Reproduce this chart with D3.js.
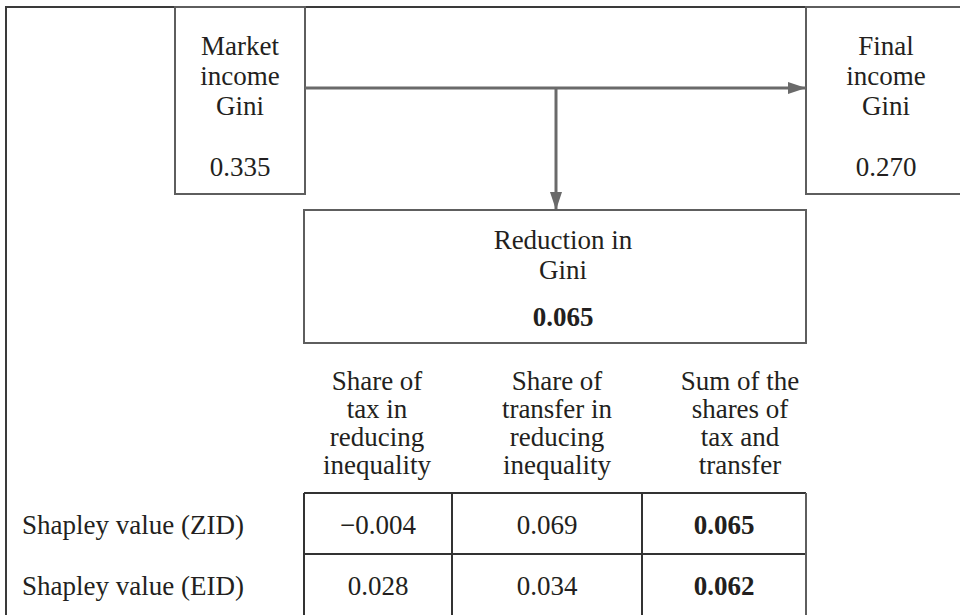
<!DOCTYPE html>
<html>
<head>
<meta charset="utf-8">
<script src="https://cdn.jsdelivr.net/npm/d3@7"></script>
<style>
  html, body { margin: 0; padding: 0; background: #fff; }
  svg { display: block; }
  text { font-family: "Liberation Serif", "DejaVu Serif", serif; fill: #231f20; }
</style>
</head>
<body>
<svg id="chart" width="960" height="615"></svg>
<script>
// ---- data ----
const topBoxLabels = [["Market", "income", "Gini"], ["Final", "income", "Gini"]];
const topBoxValues = [0.335, 0.270];
const reductionLabel = ["Reduction in", "Gini"];
const reductionValue = 0.065;
const columnHeaders = [
  ["Share of", "tax in", "reducing", "inequality"],
  ["Share of", "transfer in", "reducing", "inequality"],
  ["Sum of the", "shares of", "tax and", "transfer"]
];
const rowLabels = ["Shapley value (ZID)", "Shapley value (EID)"];
const taxShare = [-0.004, 0.028];
const transferShare = [0.069, 0.034];
const sumShare = [0.065, 0.062];

// ---- layout ----
const svg = d3.select("#chart");
const fmt = d3.format(".3f");
const lineCol = "#5e5e5e";
const arrowCol = "#6a6a6a";
const fs = "27px";

// outer frame (clipped at right/bottom)
svg.append("path")
  .attr("d", "M6,615 L6,7 L960,7")
  .attr("fill", "none").attr("stroke", "#3a3a3a").attr("stroke-width", 2);

// top boxes
const topBoxX = d3.scaleOrdinal().domain([0, 1]).range([175, 806]);
const topBoxW = d3.scaleOrdinal().domain([0, 1]).range([130, 160]);
const boxTop = 7, boxBottom = 194;
const lineY = d3.scaleLinear().domain([0, 1]).range([55, 85]);

topBoxLabels.forEach((lines, i) => {
  const x0 = topBoxX(i), w = topBoxW(i);
  svg.append("rect")
    .attr("x", x0).attr("y", boxTop).attr("width", w).attr("height", boxBottom - boxTop)
    .attr("fill", "#fff").attr("stroke", lineCol).attr("stroke-width", 2);
  const t = svg.append("g").attr("text-anchor", "middle").style("font-size", fs);
  lines.forEach((s, j) => {
    t.append("text").attr("x", x0 + w / 2).attr("y", lineY(j)).text(s);
  });
  t.append("text").attr("x", x0 + w / 2).attr("y", 176).text(fmt(topBoxValues[i]));
});

// arrowhead marker
const defs = svg.append("defs");
defs.append("marker")
  .attr("id", "ah").attr("viewBox", "0 0 18 12")
  .attr("refX", 18).attr("refY", 6)
  .attr("markerWidth", 18).attr("markerHeight", 12)
  .attr("markerUnits", "userSpaceOnUse")
  .attr("orient", "auto")
  .append("path").attr("d", "M0,0 L18,6 L0,12 Z").attr("fill", arrowCol);

const arrowY = 88, arrowX = 556;
svg.append("line")
  .attr("x1", 305).attr("y1", arrowY).attr("x2", 806).attr("y2", arrowY)
  .attr("stroke", arrowCol).attr("stroke-width", 3).attr("marker-end", "url(#ah)");
svg.append("line")
  .attr("x1", arrowX).attr("y1", arrowY).attr("x2", arrowX).attr("y2", 210)
  .attr("stroke", arrowCol).attr("stroke-width", 3).attr("marker-end", "url(#ah)");

// reduction box
const redX0 = 304, redX1 = 806, redY0 = 210, redY1 = 343;
svg.append("rect")
  .attr("x", redX0).attr("y", redY0).attr("width", redX1 - redX0).attr("height", redY1 - redY0)
  .attr("fill", "none").attr("stroke", lineCol).attr("stroke-width", 2);
const rg = svg.append("g").attr("text-anchor", "middle").style("font-size", fs);
reductionLabel.forEach((s, j) => {
  rg.append("text").attr("x", 563).attr("y", 249 + j * 30).text(s);
});
rg.append("text").attr("x", 563).attr("y", 326).style("font-weight", "bold").text(fmt(reductionValue));

// table
const colEdges = [304, 452, 642, 806];
const colIdx = [0, 1, 2];
const colLeft = d3.scaleOrdinal().domain(colIdx).range(colEdges.slice(0, 3));
const colRight = d3.scaleOrdinal().domain(colIdx).range(colEdges.slice(1));
const colMid = i => (colLeft(i) + colRight(i)) / 2;
const headerMid = d3.scaleOrdinal().domain(colIdx).range([377, 557, 740]);
const headerY = d3.scaleLinear().domain([0, 1]).range([390, 418]);

const hg = svg.append("g").attr("text-anchor", "middle").style("font-size", fs);
columnHeaders.forEach((lines, i) => {
  lines.forEach((s, j) => {
    hg.append("text").attr("x", headerMid(i)).attr("y", headerY(j)).text(s);
  });
});

const rowY = d3.scaleBand().domain(d3.range(rowLabels.length)).range([493, 615]).padding(0);
const tableVals = [taxShare, transferShare, sumShare];

// grid lines
const grid = svg.append("g").attr("stroke", "#333").attr("stroke-width", 2).attr("fill", "none");
grid.append("line").attr("x1", 304).attr("x2", 806).attr("y1", 493).attr("y2", 493);
grid.append("line").attr("x1", 304).attr("x2", 806)
  .attr("y1", rowY(1)).attr("y2", rowY(1));
colEdges.forEach(x => {
  grid.append("line").attr("x1", x).attr("x2", x).attr("y1", 493).attr("y2", 615)
    .attr("stroke", x === 806 ? "#5e5e5e" : "#333");
});

const tg = svg.append("g").style("font-size", fs);
rowLabels.forEach((lab, r) => {
  const yb = rowY(r) + rowY.bandwidth() / 2 + 10;
  tg.append("text").attr("x", 22).attr("y", yb).text(lab);
  tableVals.forEach((series, c) => {
    tg.append("text").attr("x", colMid(c)).attr("y", yb)
      .attr("text-anchor", "middle")
      .style("font-weight", c === 2 ? "bold" : "normal")
      .text(fmt(series[r]));
  });
});
</script>
</body>
</html>
